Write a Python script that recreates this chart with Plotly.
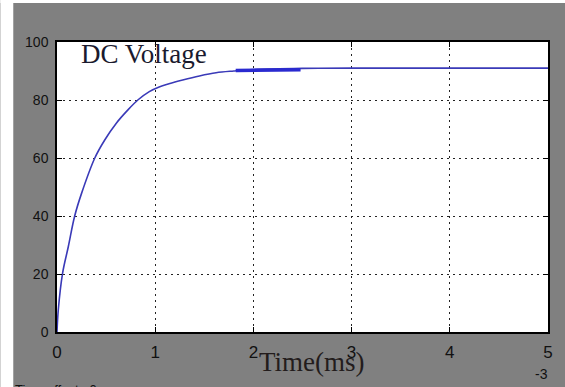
import plotly.graph_objects as go

# Data (time in ms, voltage)
time_ms = [0, 0.013, 0.057, 0.115, 0.18, 0.25, 0.385, 0.486, 0.604, 0.72, 0.823,
           0.94, 1.04, 1.14, 1.28, 1.45, 1.62, 1.8, 2.0, 2.5, 3.0, 4.0, 5.0]
dc_voltage = [0, 7.6, 20.3, 29.4, 40, 47.8, 60, 66.2, 72, 76.5, 80,
              82.9, 84.5, 85.6, 86.9, 88.3, 89.4, 90.0, 90.5, 90.9, 91.0, 91.0, 91.0]
# thicker rendering artefact segment
seg_time = [1.82, 2.48]
seg_voltage = [90.2, 90.4]

x_ticks = [0, 1, 2, 3, 4, 5]
y_ticks = [0, 20, 40, 60, 80, 100]

W, H = 565, 387
L, R, T, B = 57, 14, 42, 55
pw, ph = W - L - R, H - T - B


def px(xp):
    return (xp - L) / pw


def py(yp):
    return (H - B - yp) / ph


fig = go.Figure()
fig.add_trace(go.Scatter(x=time_ms, y=dc_voltage, mode="lines",
                         line=dict(color="#3a3ab8", width=1.6, shape="spline"),
                         showlegend=False, hoverinfo="skip"))
fig.add_trace(go.Scatter(x=seg_time, y=seg_voltage, mode="lines",
                         line=dict(color="#2a2ad0", width=3.5),
                         showlegend=False, hoverinfo="skip"))

tickfont = dict(family="Liberation Sans, Arial, sans-serif", size=14, color="#111111")
xtickfont = dict(family="Liberation Sans, Arial, sans-serif", size=17, color="#111111")
axis_common = dict(showline=True, linecolor="black", linewidth=1.5, mirror="ticks",
                   ticks="inside", ticklen=5, tickcolor="black", tickwidth=1,
                   showgrid=True, gridcolor="#222222", gridwidth=1, griddash="2px,4px",
                   zeroline=False, fixedrange=True)

fig.update_xaxes(range=[0, 5], tickvals=x_ticks, ticktext=[str(v) for v in x_ticks],
                 ticklabelstandoff=4, tickfont=xtickfont, **axis_common)
fig.update_yaxes(range=[0, 100], tickvals=y_ticks, ticktext=[str(v) for v in y_ticks],
                 ticklabelstandoff=4, tickfont=tickfont, **axis_common)

gray = "#808080"
fig.update_layout(
    width=W, height=H,
    margin=dict(l=L, r=R, t=T, b=B, pad=0),
    paper_bgcolor=gray, plot_bgcolor="white",
    shapes=[
        dict(type="rect", xref="paper", yref="paper", x0=px(0), x1=px(13), y0=py(H + 5), y1=py(-5),
             fillcolor="white", line=dict(width=0), layer="above"),
        dict(type="rect", xref="paper", yref="paper", x0=px(0), x1=px(W + 5), y0=py(3), y1=py(-5),
             fillcolor="white", line=dict(width=0), layer="above"),
    ],
    annotations=[
        dict(text="DC Voltage", x=px(79), y=py(54), xref="paper", yref="paper",
             xanchor="left", yanchor="middle", showarrow=False,
             font=dict(family="Liberation Serif, Times New Roman, serif", size=27, color="#1a1a2e")),
        dict(text="Time(ms)", x=px(314), y=py(362), xref="paper", yref="paper",
             xanchor="center", yanchor="middle", showarrow=False,
             font=dict(family="Liberation Serif, Times New Roman, serif", size=27, color="#231c1c")),
        dict(text="-3", x=px(544), y=py(374), xref="paper", yref="paper",
             xanchor="center", yanchor="middle", showarrow=False, font=tickfont),
        dict(text="x 10", x=px(524), y=py(392), xref="paper", yref="paper",
             xanchor="center", yanchor="middle", showarrow=False, font=tickfont),
        dict(text="Time offset:  0", x=px(13), y=py(389), xref="paper", yref="paper",
             xanchor="left", yanchor="middle", showarrow=False,
             font=dict(family="Liberation Sans, Arial, sans-serif", size=13, color="#111111")),
    ],
)

fig.write_html("out.html", config={"displayModeBar": False},
               post_script="document.body.style.margin='0';document.body.style.overflow='hidden';")
